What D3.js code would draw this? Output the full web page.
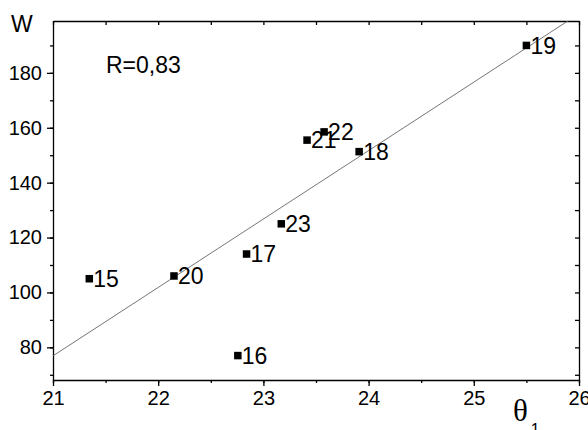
<!DOCTYPE html>
<html>
<head>
<meta charset="utf-8">
<script src="https://cdn.jsdelivr.net/npm/d3@7"></script>
<style>
    body { margin: 0; background: #fff; }
    svg { display: block; font-family: Arial, "Liberation Sans", sans-serif; }
    .axis path, .axis line { stroke: #000; stroke-width: 1.3; }
    .axis text { font-size: 20px; fill: #000; font-family: Arial, "Liberation Sans", sans-serif; }
</style>
</head>
<body>
<div id="chart"></div>
<script>
// sample ids and their values
const ids = ['15', '20', '16', '17', '23', '21', '22', '18', '19'];
const theta = [21.345, 22.15, 22.757, 22.84, 23.17, 23.415, 23.577, 23.91, 25.5];
const wValues = [105, 106, 77, 114, 125, 155.5, 158.5, 151.3, 190];
const xTicks = [21, 22, 23, 24, 25, 26];
const yTicks = [80, 100, 120, 140, 160, 180];
const rLabel = 'R=0,83';

const data = ids.map((id, i) => ({ id, x: theta[i], y: wValues[i] }));

const outerWidth = 588;
const outerHeight = 430;
const margin = { top: 21, left: 53, bottom: 50, right: 9 };
const innerWidth = outerWidth - margin.left - margin.right;
const innerHeight = outerHeight - margin.top - margin.bottom;

const xScale = d3.scaleLinear()
    .domain([21, 26])
    .range([0, innerWidth]);

const yScale = d3.scaleLinear()
    .domain([68.1, 198.9])
    .range([innerHeight, 0]);

const svg = d3.select('#chart')
    .append('svg')
        .attr('width', outerWidth)
        .attr('height', outerHeight)
    .append('g')
        .attr('transform', `translate(${margin.left},${margin.top})`);

svg.append('clipPath')
    .attr('id', 'clip')
    .append('rect')
        .attr('width', innerWidth)
        .attr('height', innerHeight);

// minor ticks every half unit / 10 units
const xMinor = d3.range(21, 26.01, 0.5);
const yMinor = d3.range(70, 199, 10);

const noText = g => g.selectAll('text').remove();

// bottom axis
svg.append('g')
    .classed('axis', true)
    .attr('transform', `translate(0,${innerHeight})`)
    .call(d3.axisBottom(xScale).tickValues(xMinor).tickSize(3))
    .call(g => g.select('.domain').remove())
    .call(noText);

svg.append('g')
    .classed('axis', true)
    .attr('transform', `translate(0,${innerHeight})`)
    .call(d3.axisBottom(xScale).tickValues(xTicks).tickSize(6).tickSizeOuter(0).tickPadding(5).tickFormat(d3.format('d')));

// left axis
svg.append('g')
    .classed('axis', true)
    .call(d3.axisLeft(yScale).tickValues(yMinor).tickSize(3))
    .call(g => g.select('.domain').remove())
    .call(noText);

svg.append('g')
    .classed('axis', true)
    .call(d3.axisLeft(yScale).tickValues(yTicks).tickSize(6).tickSizeOuter(0).tickPadding(5).tickFormat(d3.format('d')));

// top axis, ticks inside
svg.append('g')
    .classed('axis', true)
    .call(d3.axisTop(xScale).tickValues(xMinor).tickSize(-4).tickSizeOuter(0))
    .call(noText);

// right axis, ticks inside
svg.append('g')
    .classed('axis', true)
    .attr('transform', `translate(${innerWidth},0)`)
    .call(d3.axisRight(yScale).tickValues(yMinor).tickSize(-4).tickSizeOuter(0))
    .call(noText);

// linear fit
const mx = d3.mean(data, d => d.x);
const my = d3.mean(data, d => d.y);
const slope = d3.sum(data, d => (d.x - mx) * (d.y - my)) / d3.sum(data, d => (d.x - mx) ** 2);
const fit = x => my + slope * (x - mx);

svg.append('path')
    .attr('clip-path', 'url(#clip)')
    .attr('d', d3.line().x(d => xScale(d)).y(d => yScale(fit(d)))(xScale.domain()))
    .attr('fill', 'none')
    .attr('stroke', '#666')
    .attr('stroke-width', 0.9);

// points
const size = 7.5;
svg.selectAll('.point')
    .data(data)
    .join('rect')
        .classed('point', true)
        .attr('x', d => xScale(d.x) - size / 2)
        .attr('y', d => yScale(d.y) - size / 2)
        .attr('width', size)
        .attr('height', size)
        .attr('fill', '#000');

svg.selectAll('.point-label')
    .data(data)
    .join('text')
        .classed('point-label', true)
        .attr('x', d => xScale(d.x) + 4)
        .attr('y', d => yScale(d.y))
        .attr('dy', '0.36em')
        .attr('font-size', 23)
        .text(d => d.id);

svg.append('text')
    .attr('x', 106 - margin.left)
    .attr('y', 73 - margin.top)
    .attr('font-size', 23)
    .text(rLabel);

// axis titles
svg.append('text')
    .attr('x', 11 - margin.left)
    .attr('y', 32 - margin.top)
    .attr('font-size', 23)
    .text('W');

const xTitle = svg.append('text')
    .attr('x', 513 - margin.left)
    .attr('y', 421 - margin.top)
    .attr('font-family', '"Liberation Serif", "Times New Roman", serif')
    .attr('font-size', 31)
    .text('θ');

xTitle.append('tspan')
    .attr('dx', 3)
    .attr('dy', 14)
    .attr('font-family', 'Arial, "Liberation Sans", sans-serif')
    .attr('font-size', 16)
    .text('1');
</script>
</body>
</html>
